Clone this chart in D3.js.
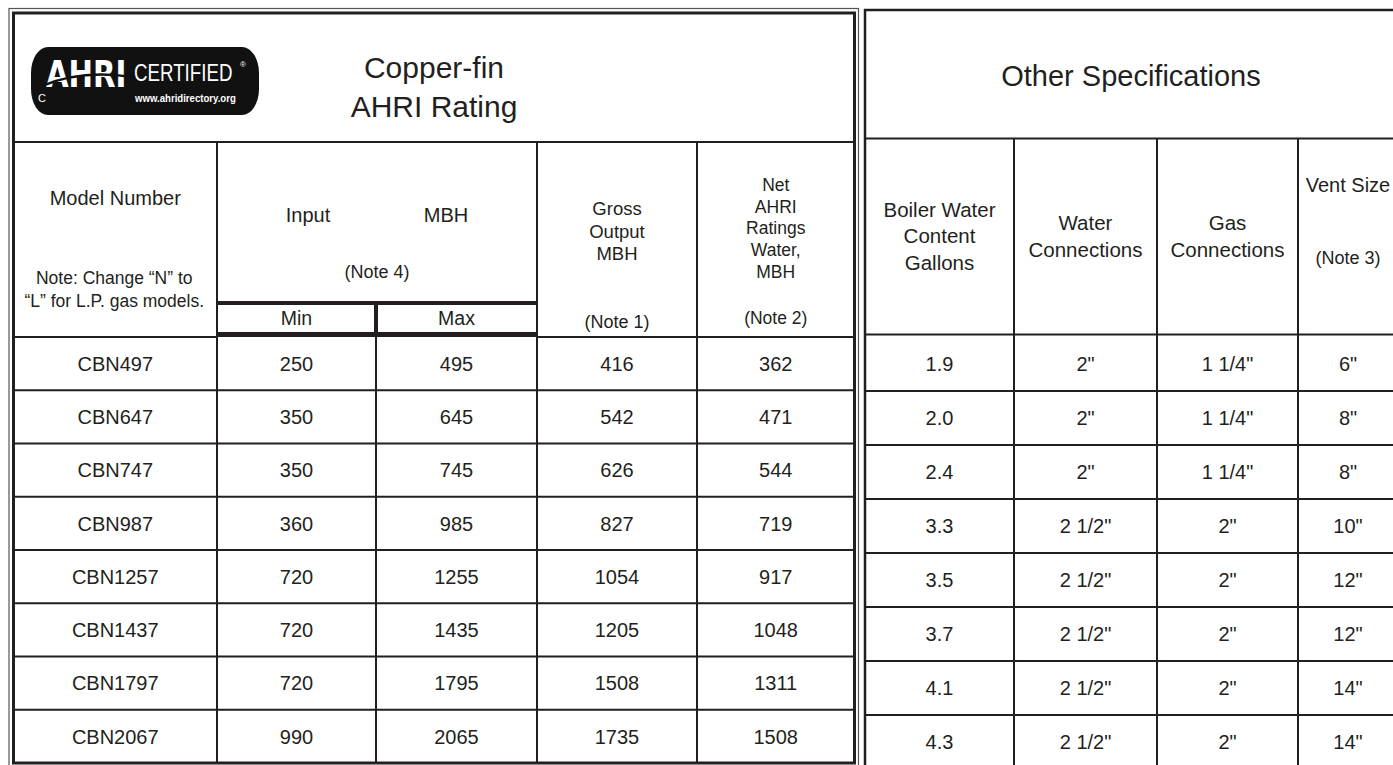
<!DOCTYPE html>
<html>
<head>
<meta charset="utf-8">
<script src="https://cdn.jsdelivr.net/npm/d3@7"></script>
<style>
  html, body { margin: 0; padding: 0; background: #fff; }
  svg { display: block; font-family: "Liberation Sans", Arial, sans-serif; }
</style>
</head>
<body>
<div id="chart"></div>
<script>
// TABLE DATA
// ----------------------------------------
const models = ["CBN497", "CBN647", "CBN747", "CBN987", "CBN1257", "CBN1437", "CBN1797", "CBN2067"];
const inputMin = [250, 350, 350, 360, 720, 720, 720, 990];
const inputMax = [495, 645, 745, 985, 1255, 1435, 1795, 2065];
const grossOutput = [416, 542, 626, 827, 1054, 1205, 1508, 1735];
const netRatings = [362, 471, 544, 719, 917, 1048, 1311, 1508];
const waterContent = ["1.9", "2.0", "2.4", "3.3", "3.5", "3.7", "4.1", "4.3"];
const waterConnections = ['2"', '2"', '2"', '2 1/2"', '2 1/2"', '2 1/2"', '2 1/2"', '2 1/2"'];
const gasConnections = ['1 1/4"', '1 1/4"', '1 1/4"', '2"', '2"', '2"', '2"', '2"'];
const ventSize = ['6"', '8"', '8"', '10"', '12"', '12"', '14"', '14"'];

// HEADER LABELS
// ----------------------------------------
const leftTitle = ["Copper-fin", "AHRI Rating"];
const rightTitle = "Other Specifications";
const modelHeader = ["Model Number"];
const modelNote = ["Note: Change \u201CN\u201D to", "\u201CL\u201D for L.P. gas models."];
const inputHeader = ["Input", "MBH", "(Note 4)"];
const minMaxHeader = ["Min", "Max"];
const grossHeader = ["Gross", "Output", "MBH"];
const netHeader = ["Net", "AHRI", "Ratings", "Water,", "MBH"];
const boilerHeader = ["Boiler Water", "Content", "Gallons"];
const waterHeader = ["Water", "Connections"];
const gasHeader = ["Gas", "Connections"];
const ventHeader = ["Vent Size", "(Note 3)"];

// LAYOUT
// ----------------------------------------
const WIDTH = 1393;
const HEIGHT = 765;
const INK = "#231f20";
const LEFT_COLS = [13.5, 217, 376, 537, 697, 854.5];
const RIGHT_COLS = [865, 1014, 1157, 1298, 1398];

const svg = d3.select("#chart")
    .append("svg")
    .attr("width", WIDTH)
    .attr("height", HEIGHT);

const yLeft = d3.scaleBand().domain(models).range([337, 763]);
const yRight = d3.scaleBand().domain(models).range([337, 769]);

const gridLayer = svg.append("g");
const textLayer = svg.append("g").attr("fill", INK);

function line(x1, y1, x2, y2, w) {
    gridLayer.append("line")
        .attr("x1", x1).attr("y1", y1)
        .attr("x2", x2).attr("y2", y2)
        .attr("stroke", INK)
        .attr("stroke-width", w || 2);
}

function label(x, y, str, size, anchor) {
    return textLayer.append("text")
        .attr("x", x)
        .attr("y", y)
        .attr("text-anchor", anchor || "middle")
        .attr("font-size", size)
        .text(str);
}

function stack(lines, x, y0, step, size) {
    lines.forEach((t, i) => label(x, y0 + i * step, t, size));
}

const mid = (cols, i) => (cols[i] + cols[i + 1]) / 2;

// LEFT TABLE GRID
// ----------------------------------------
gridLayer.append("rect")
    .attr("x", 9).attr("y", 8.5)
    .attr("width", 858.5 - 9).attr("height", 768 - 8.5)
    .attr("fill", "none").attr("stroke", "#555").attr("stroke-width", 1.2);
gridLayer.append("rect")
    .attr("x", 13.5).attr("y", 13)
    .attr("width", 854.5 - 13.5).attr("height", 763 - 13)
    .attr("fill", "none").attr("stroke", INK).attr("stroke-width", 3);

line(13.5, 142, 854.5, 142, 2.2);
line(217, 142, 217, 763);
line(537, 142, 537, 763);
line(697, 142, 697, 763);
line(217, 303, 537, 303, 4);
line(376, 303, 376, 334, 4);
line(376, 334, 376, 763);
line(217, 334.5, 537, 334.5, 5);
line(13.5, 337, 217, 337);
line(537, 337, 854.5, 337);

models.forEach(m => line(13.5, yLeft(m) + yLeft.bandwidth(), 854.5, yLeft(m) + yLeft.bandwidth()));

// RIGHT TABLE GRID
// ----------------------------------------
gridLayer.append("rect")
    .attr("x", 865).attr("y", 10)
    .attr("width", 1398 - 865).attr("height", 769 - 10)
    .attr("fill", "none").attr("stroke", INK).attr("stroke-width", 2.5);

line(865, 138.5, 1398, 138.5, 2.2);
line(865, 334.5, 1398, 334.5, 2.2);
RIGHT_COLS.slice(1, 4).forEach(x => line(x, 138.5, x, 769));
models.forEach(m => line(865, yRight(m) + yRight.bandwidth(), 1398, yRight(m) + yRight.bandwidth()));

// AHRI LOGO
// ----------------------------------------
const logo = svg.append("g");
logo.append("rect")
    .attr("x", 31).attr("y", 47)
    .attr("width", 228).attr("height", 68)
    .attr("rx", 17).attr("ry", 26)
    .attr("fill", "#111");
logo.append("text")
    .attr("transform", "translate(46,87) scale(0.79,1)")
    .attr("font-family", "DejaVu Sans, sans-serif")
    .attr("font-weight", 900)
    .attr("font-size", 37)
    .attr("fill", "#fff")
    .text("AHRI");
logo.append("path")
    .attr("d", "M42,86 C68,75 100,72 132,77")
    .attr("fill", "none").attr("stroke", "#111").attr("stroke-width", 2.4);
logo.append("text")
    .attr("transform", "translate(134,80.5) scale(0.78,1)")
    .attr("font-size", 24)
    .attr("fill", "#fff")
    .text("CERTIFIED");
logo.append("text")
    .attr("x", 240).attr("y", 67)
    .attr("font-size", 8)
    .attr("fill", "#fff")
    .text("\u00AE");
logo.append("text")
    .attr("transform", "translate(135,102) scale(0.96,1)")
    .attr("font-size", 10)
    .attr("font-weight", "bold")
    .attr("fill", "#fff")
    .text("www.ahridirectory.org");
logo.append("text")
    .attr("x", 38).attr("y", 102)
    .attr("font-size", 11)
    .attr("fill", "#fff")
    .text("C");

// HEADERS
// ----------------------------------------
stack(leftTitle, 434, 78, 39, 30);
label(1131, 85.5, rightTitle, 29);

stack(modelHeader, mid(LEFT_COLS, 0), 205, 0, 20);
stack(modelNote, mid(LEFT_COLS, 0) - 1, 283.5, 23.5, 17.5);

label(308, 222, inputHeader[0], 20);
label(446, 222, inputHeader[1], 20);
label(377, 278, inputHeader[2], 18);
minMaxHeader.forEach((t, i) => label(mid(LEFT_COLS, i + 1), 325, t, 19.5));

stack(grossHeader, mid(LEFT_COLS, 3), 215, 22.5, 18.5);
label(mid(LEFT_COLS, 3), 327.5, "(Note 1)", 18);
stack(netHeader, mid(LEFT_COLS, 4), 191, 21.7, 17.5);
label(mid(LEFT_COLS, 4), 324, "(Note 2)", 17.5);

stack(boilerHeader, mid(RIGHT_COLS, 0), 216.5, 26.5, 20.5);
stack(waterHeader, mid(RIGHT_COLS, 1), 230, 26.5, 20.5);
stack(gasHeader, mid(RIGHT_COLS, 2), 230, 26.5, 20.5);
label(mid(RIGHT_COLS, 3), 192, ventHeader[0], 20);
label(mid(RIGHT_COLS, 3), 264, ventHeader[1], 18);

// DATA CELLS
// ----------------------------------------
const leftColumns = [models, inputMin, inputMax, grossOutput, netRatings];
leftColumns.forEach((col, c) => {
    col.forEach((v, r) => {
        label(mid(LEFT_COLS, c), yLeft(models[r]) + yLeft.bandwidth() / 2, v, 20)
            .attr("dy", "0.36em");
    });
});

const rightColumns = [waterContent, waterConnections, gasConnections, ventSize];
rightColumns.forEach((col, c) => {
    col.forEach((v, r) => {
        label(mid(RIGHT_COLS, c), yRight(models[r]) + yRight.bandwidth() / 2, v, 20)
            .attr("dy", "0.36em");
    });
});
</script>
</body>
</html>
